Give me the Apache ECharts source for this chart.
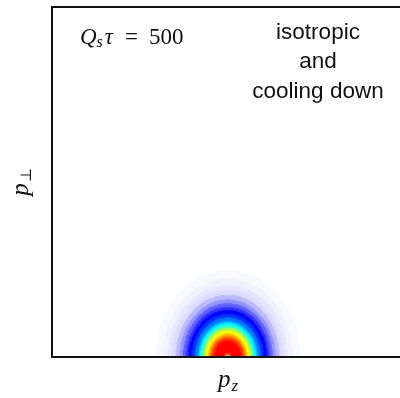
<!DOCTYPE html>
<html>
<head>
    <meta charset="utf-8">
    <title>isotropic and cooling down</title>
    <style>
        html,body,#main{
            height: 100%;
            width: 100%;
            padding: 0;
            margin: 0;
            background: #fff;
        }
    </style>
</head>
<body>
    <div id="main"></div>
    <script src="https://cdn.jsdelivr.net/npm/echarts@6/dist/echarts.min.js"></script>
    <script>
        // axis ranges (p_z symmetric, p_perp from 0)
        const pzRange = [-4, 4];
        const pperpRange = [0, 7.95];
        const nPz = 352;
        const nPerp = 350;
        // stretch of the distribution along p_perp
        const perpStretch = 1.2;

        // radial profile (radius in p_z units -> colour level 0..1)
        const profileR = [0, 0.045, 0.09, 0.3, 0.34, 0.38, 0.41, 0.45, 0.5, 0.55, 0.59, 0.64, 0.68, 0.75, 0.82, 0.89, 0.95, 1.02, 1.09, 1.18, 1.27, 1.36, 1.48, 1.64];
        const profileV = [0.66, 0.95, 1.0, 0.97, 0.93, 0.88, 0.83, 0.78, 0.71, 0.63, 0.56, 0.5, 0.44, 0.38, 0.33, 0.28, 0.23, 0.18, 0.14, 0.1, 0.07, 0.04, 0.02, 0];

        const jetWhite = ['#ffffff', '#d8d8ff', '#6a6aff', '#0000ff', '#0080ff', '#00ffff', '#80ff80', '#ffff00', '#ff8000', '#ff0000'];

        const textLines = ['isotropic', 'and', 'cooling down'];

        // bins
        let pzBins = [], perpBins = [];
        const dPz = (pzRange[1] - pzRange[0]) / nPz;
        const dPerp = (pperpRange[1] - pperpRange[0]) / nPerp;
        for (let i = 0; i < nPz; i++) pzBins.push((pzRange[0] + (i + 0.5) * dPz).toFixed(4));
        for (let j = 0; j < nPerp; j++) perpBins.push((pperpRange[0] + (j + 0.5) * dPerp).toFixed(4));

        function level(r) {
            let k = 0;
            while (k + 1 < profileR.length && profileR[k + 1] <= r) k++;
            return profileV[k];
        }

        let cells = [];
        for (let i = 0; i < nPz; i++) {
            for (let j = 0; j < nPerp; j++) {
                let x = +pzBins[i], y = +perpBins[j] / perpStretch;
                let v = level(Math.sqrt(x * x + y * y));
                if (v > 0) cells.push([i, j, v]);
            }
        }

        let chart = echarts.init(document.getElementById('main'));
        const mathFont = '"Liberation Serif", "DejaVu Serif", serif';

        chart.setOption({
            animation: false,
            grid: {
                left: 52, top: 7, width: 352, height: 350,
                outerBoundsMode: 'none', containLabel: false,
                show: true, borderColor: '#111', borderWidth: 2, backgroundColor: '#fff'
            },
            xAxis: {
                type: 'category', data: pzBins, z: 10,
                axisLine: { lineStyle: { color: '#111', width: 2 } },
                axisTick: { show: false }, axisLabel: { show: false },
                splitLine: { show: false },
                name: '{p|p}{s|z}', nameLocation: 'middle', nameGap: 9,
                nameTextStyle: {
                    rich: {
                        p: { fontFamily: mathFont, fontStyle: 'italic', fontSize: 25, color: '#111' },
                        s: { fontFamily: mathFont, fontStyle: 'italic', fontSize: 17, color: '#111', padding: [12, 0, 0, 1] }
                    }
                }
            },
            yAxis: {
                type: 'category', data: perpBins, z: 10,
                axisLine: { lineStyle: { color: '#111', width: 2 } },
                axisTick: { show: false }, axisLabel: { show: false },
                splitLine: { show: false },
                name: '{p|p}{s|⊥}', nameLocation: 'middle', nameGap: 17, nameRotate: 90,
                nameTextStyle: {
                    rich: {
                        p: { fontFamily: mathFont, fontStyle: 'italic', fontSize: 25, color: '#111' },
                        s: { fontFamily: '"DejaVu Serif", serif', fontSize: 15, color: '#111', padding: [12, 0, 0, 1] }
                    }
                }
            },
            visualMap: {
                show: false, min: 0, max: 1, dimension: 2,
                inRange: { color: jetWhite }
            },
            series: [{
                type: 'heatmap',
                data: cells,
                progressive: 0,
                itemStyle: { borderWidth: 0 },
                emphasis: { disabled: true }
            }],
            graphic: [{
                type: 'text', left: 80, top: 26,
                style: {
                    text: '{i|Q}{s|s}{i|τ}{e|=}{n|500}',
                    rich: {
                        i: { fontFamily: mathFont, fontStyle: 'italic', fontSize: 23, fill: '#111' },
                        s: { fontFamily: mathFont, fontStyle: 'italic', fontSize: 16, fill: '#111', padding: [10, 2, 0, 0] },
                        e: { fontFamily: mathFont, fontSize: 23, fill: '#111', padding: [0, 11, 0, 12] },
                        n: { fontFamily: mathFont, fontSize: 23, fill: '#111' }
                    }
                }
            }, {
                type: 'text', x: 318, y: 18,
                style: {
                    text: textLines.join('\n'),
                    font: '22.5px "Liberation Sans", Arial, sans-serif',
                    lineHeight: 29.5,
                    fill: '#111', align: 'center', verticalAlign: 'top'
                }
            }]
        });
    </script>
</body>
</html>
